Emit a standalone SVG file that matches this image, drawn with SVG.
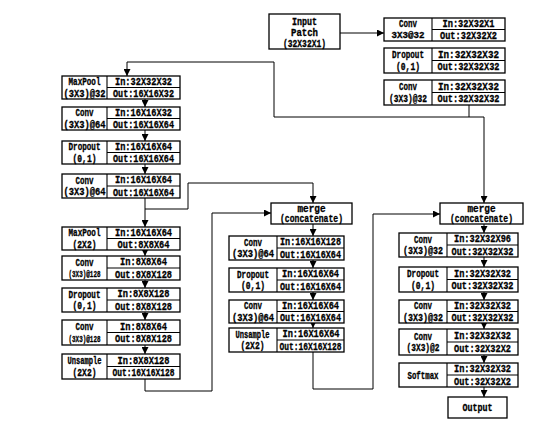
<svg xmlns="http://www.w3.org/2000/svg" width="542" height="434" viewBox="0 0 542 434">
<style>
.b{fill:#fff;stroke:#000;stroke-width:1.3}
.d{stroke:#000;stroke-width:1.1}
.t{font-family:"Liberation Mono","DejaVu Sans Mono",monospace;font-weight:bold;font-size:10px;text-anchor:middle;fill:#000;stroke:#000;stroke-width:0.3}
.s{font-size:8.5px}
.c{stroke:#000;stroke-width:1;fill:none}
</style>
<defs>
<marker id="ah" markerUnits="userSpaceOnUse" markerWidth="7" markerHeight="7" refX="7" refY="3.5" orient="auto">
<path d="M0,0L7,3.5L0,7z" fill="#000"/>
</marker>
</defs>
<rect width="542" height="434" fill="#fff"/>

<g id="connectors" class="c">
<path d="M340,33H384" marker-end="url(#ah)"/>
<path d="M469,105V117"/>
<path d="M274,117H484V203" marker-end="url(#ah)"/>
<path d="M274,117V62H127V76" marker-end="url(#ah)"/>
<path d="M145,99V107" marker-end="url(#ah)"/>
<path d="M145,130V141" marker-end="url(#ah)"/>
<path d="M145,164V174" marker-end="url(#ah)"/>
<path d="M145,198V227" marker-end="url(#ah)"/>
<path d="M145,250V256" marker-end="url(#ah)"/>
<path d="M145,280V288" marker-end="url(#ah)"/>
<path d="M145,312V320" marker-end="url(#ah)"/>
<path d="M145,345V354" marker-end="url(#ah)"/>
<path d="M145,209H188V183H313V203" marker-end="url(#ah)"/>
<path d="M145,379V391H212V213H271" marker-end="url(#ah)"/>
<path d="M313,224V236" marker-end="url(#ah)"/>
<path d="M313,260V268" marker-end="url(#ah)"/>
<path d="M313,292V300" marker-end="url(#ah)"/>
<path d="M313,323V328" marker-end="url(#ah)"/>
<path d="M313,352V389H373V214H440" marker-end="url(#ah)"/>
<path d="M484,224V233" marker-end="url(#ah)"/>
<path d="M484,257V267" marker-end="url(#ah)"/>
<path d="M484,292V300" marker-end="url(#ah)"/>
<path d="M484,323V329" marker-end="url(#ah)"/>
<path d="M484,355V363" marker-end="url(#ah)"/>
<path d="M484,387V397" marker-end="url(#ah)"/>
</g>

<g id="input">
<rect class="b" x="269" y="14" width="71" height="35"/>
<text class="t" x="304.5" y="24.5" textLength="25" lengthAdjust="spacingAndGlyphs">Input</text>
<text class="t" x="304.5" y="36" textLength="27" lengthAdjust="spacingAndGlyphs">Patch</text>
<text class="t" x="304.5" y="47" textLength="43" lengthAdjust="spacingAndGlyphs">(32X32X1)</text>
</g>

<g id="t1">
<rect class="b" x="384" y="18" width="121" height="23"/>
<path class="d" d="M432,18V41M432,29.5H505"/>
<text class="t" x="408" y="27" textLength="18" lengthAdjust="spacingAndGlyphs">Conv</text>
<text class="t s" x="408" y="38" textLength="33" lengthAdjust="spacingAndGlyphs">3X3@32</text>
<text class="t" x="468.5" y="26.5" textLength="52" lengthAdjust="spacingAndGlyphs">In:32X32X1</text>
<text class="t" x="468.5" y="39" textLength="57" lengthAdjust="spacingAndGlyphs">Out:32X32X2</text>
</g>
<g id="t2">
<rect class="b" x="384" y="48" width="121" height="25"/>
<path class="d" d="M432,48V73M432,60.5H505"/>
<text class="t" x="408" y="58" textLength="32" lengthAdjust="spacingAndGlyphs">Dropout</text>
<text class="t" x="408" y="69.5" textLength="24" lengthAdjust="spacingAndGlyphs">(0,1)</text>
<text class="t" x="468.5" y="57.5" textLength="61" lengthAdjust="spacingAndGlyphs">In:32X32X32</text>
<text class="t" x="468.5" y="70" textLength="62" lengthAdjust="spacingAndGlyphs">Out:32X32X32</text>
</g>
<g id="t3">
<rect class="b" x="384" y="80" width="121" height="25"/>
<path class="d" d="M432,80V105M432,92.5H505"/>
<text class="t" x="408" y="90" textLength="18" lengthAdjust="spacingAndGlyphs">Conv</text>
<text class="t" x="408" y="101.5" textLength="38" lengthAdjust="spacingAndGlyphs">(3X3)@32</text>
<text class="t" x="468.5" y="89.5" textLength="61" lengthAdjust="spacingAndGlyphs">In:32X32X32</text>
<text class="t" x="468.5" y="102" textLength="62" lengthAdjust="spacingAndGlyphs">Out:32X32X32</text>
</g>

<g id="l1">
<rect class="b" x="62" y="76" width="118" height="23"/>
<path class="d" d="M107,76V99M107,87.5H180"/>
<text class="t" x="84.5" y="85" textLength="32" lengthAdjust="spacingAndGlyphs">MaxPool</text>
<text class="t" x="84.5" y="96.5" textLength="42" lengthAdjust="spacingAndGlyphs">(3X3)@32</text>
<text class="t" x="143.5" y="84.5" textLength="57" lengthAdjust="spacingAndGlyphs">In:32X32X32</text>
<text class="t" x="143.5" y="97" textLength="61" lengthAdjust="spacingAndGlyphs">Out:16X16X32</text>
</g>
<g id="l2">
<rect class="b" x="62" y="107" width="118" height="23"/>
<path class="d" d="M107,107V130M107,118.5H180"/>
<text class="t" x="84.5" y="116" textLength="18" lengthAdjust="spacingAndGlyphs">Conv</text>
<text class="t" x="84.5" y="127.5" textLength="42" lengthAdjust="spacingAndGlyphs">(3X3)@64</text>
<text class="t" x="143.5" y="115.5" textLength="57" lengthAdjust="spacingAndGlyphs">In:16X16X32</text>
<text class="t" x="143.5" y="128" textLength="61" lengthAdjust="spacingAndGlyphs">Out:16X16X64</text>
</g>
<g id="l3">
<rect class="b" x="62" y="141" width="118" height="23"/>
<path class="d" d="M107,141V164M107,152.5H180"/>
<text class="t" x="84.5" y="150" textLength="32" lengthAdjust="spacingAndGlyphs">Dropout</text>
<text class="t" x="84.5" y="161.5" textLength="24" lengthAdjust="spacingAndGlyphs">(0,1)</text>
<text class="t" x="143.5" y="149.5" textLength="57" lengthAdjust="spacingAndGlyphs">In:16X16X64</text>
<text class="t" x="143.5" y="162" textLength="61" lengthAdjust="spacingAndGlyphs">Out:16X16X64</text>
</g>
<g id="l4">
<rect class="b" x="62" y="174" width="118" height="24"/>
<path class="d" d="M107,174V198M107,186H180"/>
<text class="t" x="84.5" y="183.5" textLength="18" lengthAdjust="spacingAndGlyphs">Conv</text>
<text class="t" x="84.5" y="195" textLength="42" lengthAdjust="spacingAndGlyphs">(3X3)@64</text>
<text class="t" x="143.5" y="183" textLength="57" lengthAdjust="spacingAndGlyphs">In:16X16X64</text>
<text class="t" x="143.5" y="195.5" textLength="61" lengthAdjust="spacingAndGlyphs">Out:16X16X64</text>
</g>
<g id="l5">
<rect class="b" x="62" y="227" width="118" height="23"/>
<path class="d" d="M107,227V250M107,238.5H180"/>
<text class="t" x="84.5" y="236" textLength="32" lengthAdjust="spacingAndGlyphs">MaxPool</text>
<text class="t" x="84.5" y="247.5" textLength="24" lengthAdjust="spacingAndGlyphs">(2X2)</text>
<text class="t" x="143.5" y="235.5" textLength="57" lengthAdjust="spacingAndGlyphs">In:16X16X64</text>
<text class="t" x="143.5" y="248" textLength="52" lengthAdjust="spacingAndGlyphs">Out:8X8X64</text>
</g>
<g id="l6">
<rect class="b" x="62" y="256" width="118" height="24"/>
<path class="d" d="M107,256V280M107,268H180"/>
<text class="t" x="84.5" y="265.5" textLength="18" lengthAdjust="spacingAndGlyphs">Conv</text>
<text class="t s" x="84.5" y="277" textLength="32" lengthAdjust="spacingAndGlyphs">(3X3)@128</text>
<text class="t" x="143.5" y="265" textLength="47" lengthAdjust="spacingAndGlyphs">In:8X8X64</text>
<text class="t" x="143.5" y="277.5" textLength="57" lengthAdjust="spacingAndGlyphs">Out:8X8X128</text>
</g>
<g id="l7">
<rect class="b" x="62" y="288" width="118" height="24"/>
<path class="d" d="M107,288V312M107,300H180"/>
<text class="t" x="84.5" y="297.5" textLength="32" lengthAdjust="spacingAndGlyphs">Dropout</text>
<text class="t" x="84.5" y="309" textLength="24" lengthAdjust="spacingAndGlyphs">(0,1)</text>
<text class="t" x="143.5" y="297" textLength="52" lengthAdjust="spacingAndGlyphs">In:8X8X128</text>
<text class="t" x="143.5" y="309.5" textLength="57" lengthAdjust="spacingAndGlyphs">Out:8X8X128</text>
</g>
<g id="l8">
<rect class="b" x="62" y="320" width="118" height="25"/>
<path class="d" d="M107,320V345M107,332.5H180"/>
<text class="t" x="84.5" y="330" textLength="18" lengthAdjust="spacingAndGlyphs">Conv</text>
<text class="t s" x="84.5" y="341.5" textLength="32" lengthAdjust="spacingAndGlyphs">(3X3)@128</text>
<text class="t" x="143.5" y="329.5" textLength="47" lengthAdjust="spacingAndGlyphs">In:8X8X64</text>
<text class="t" x="143.5" y="342" textLength="57" lengthAdjust="spacingAndGlyphs">Out:8X8X128</text>
</g>
<g id="l9">
<rect class="b" x="62" y="354" width="118" height="25"/>
<path class="d" d="M107,354V379M107,366.5H180"/>
<text class="t" x="84.5" y="364" textLength="34" lengthAdjust="spacingAndGlyphs">Unsample</text>
<text class="t" x="84.5" y="375.5" textLength="24" lengthAdjust="spacingAndGlyphs">(2X2)</text>
<text class="t" x="143.5" y="363.5" textLength="52" lengthAdjust="spacingAndGlyphs">In:8X8X128</text>
<text class="t" x="143.5" y="376" textLength="62" lengthAdjust="spacingAndGlyphs">Out:16X16X128</text>
</g>

<g id="m0">
<rect class="b" x="271" y="203" width="81" height="21"/>
<text class="t" x="311.5" y="211.5" textLength="28" lengthAdjust="spacingAndGlyphs">merge</text>
<text class="t" x="311.5" y="222" textLength="63" lengthAdjust="spacingAndGlyphs">(concatenate)</text>
</g>
<g id="m1">
<rect class="b" x="229" y="236" width="115" height="24"/>
<path class="d" d="M277,236V260M277,248H344"/>
<text class="t" x="253" y="245.5" textLength="18" lengthAdjust="spacingAndGlyphs">Conv</text>
<text class="t" x="253" y="257" textLength="42" lengthAdjust="spacingAndGlyphs">(3X3)@64</text>
<text class="t" x="310.5" y="245" textLength="61" lengthAdjust="spacingAndGlyphs">In:16X16X128</text>
<text class="t" x="310.5" y="257.5" textLength="61" lengthAdjust="spacingAndGlyphs">Out:16X16X64</text>
</g>
<g id="m2">
<rect class="b" x="229" y="268" width="115" height="24"/>
<path class="d" d="M277,268V292M277,280H344"/>
<text class="t" x="253" y="277.5" textLength="32" lengthAdjust="spacingAndGlyphs">Dropout</text>
<text class="t" x="253" y="289" textLength="24" lengthAdjust="spacingAndGlyphs">(0,1)</text>
<text class="t" x="310.5" y="277" textLength="57" lengthAdjust="spacingAndGlyphs">In:16X16X64</text>
<text class="t" x="310.5" y="289.5" textLength="61" lengthAdjust="spacingAndGlyphs">Out:16X16X64</text>
</g>
<g id="m3">
<rect class="b" x="229" y="300" width="115" height="23"/>
<path class="d" d="M277,300V323M277,311.5H344"/>
<text class="t" x="253" y="309" textLength="18" lengthAdjust="spacingAndGlyphs">Conv</text>
<text class="t" x="253" y="320.5" textLength="42" lengthAdjust="spacingAndGlyphs">(3X3)@64</text>
<text class="t" x="310.5" y="308.5" textLength="57" lengthAdjust="spacingAndGlyphs">In:16X16X64</text>
<text class="t" x="310.5" y="321" textLength="61" lengthAdjust="spacingAndGlyphs">Out:16X16X64</text>
</g>
<g id="m4">
<rect class="b" x="229" y="328" width="115" height="24"/>
<path class="d" d="M277,328V352M277,340H344"/>
<text class="t" x="252.5" y="337.5" textLength="34" lengthAdjust="spacingAndGlyphs">Unsample</text>
<text class="t" x="252.5" y="349" textLength="24" lengthAdjust="spacingAndGlyphs">(2X2)</text>
<text class="t" x="311" y="337" textLength="57" lengthAdjust="spacingAndGlyphs">In:16X16X64</text>
<text class="t" x="310.5" y="349.5" textLength="62" lengthAdjust="spacingAndGlyphs">Out:16X16X128</text>
</g>

<g id="r0">
<rect class="b" x="440" y="203" width="83" height="21"/>
<text class="t" x="481.5" y="211.5" textLength="28" lengthAdjust="spacingAndGlyphs">merge</text>
<text class="t" x="481.5" y="222" textLength="63" lengthAdjust="spacingAndGlyphs">(concatenate)</text>
</g>
<g id="r1">
<rect class="b" x="399" y="233" width="119" height="24"/>
<path class="d" d="M447,233V257M447,245H518"/>
<text class="t" x="423" y="242.5" textLength="18" lengthAdjust="spacingAndGlyphs">Conv</text>
<text class="t" x="423" y="254" textLength="40" lengthAdjust="spacingAndGlyphs">(3X3)@32</text>
<text class="t" x="482.5" y="242" textLength="57" lengthAdjust="spacingAndGlyphs">In:32X32X96</text>
<text class="t" x="482.5" y="254.5" textLength="62" lengthAdjust="spacingAndGlyphs">Out:32X32X32</text>
</g>
<g id="r2">
<rect class="b" x="399" y="267" width="119" height="25"/>
<path class="d" d="M447,267V292M447,279.5H518"/>
<text class="t" x="423" y="277" textLength="32" lengthAdjust="spacingAndGlyphs">Dropout</text>
<text class="t" x="423" y="288.5" textLength="24" lengthAdjust="spacingAndGlyphs">(0,1)</text>
<text class="t" x="482.5" y="276.5" textLength="57" lengthAdjust="spacingAndGlyphs">In:32X32X32</text>
<text class="t" x="482.5" y="289" textLength="62" lengthAdjust="spacingAndGlyphs">Out:32X32X32</text>
</g>
<g id="r3">
<rect class="b" x="399" y="300" width="119" height="23"/>
<path class="d" d="M447,300V323M447,311.5H518"/>
<text class="t" x="423" y="309" textLength="18" lengthAdjust="spacingAndGlyphs">Conv</text>
<text class="t" x="423" y="320.5" textLength="40" lengthAdjust="spacingAndGlyphs">(3X3)@32</text>
<text class="t" x="482.5" y="308.5" textLength="57" lengthAdjust="spacingAndGlyphs">In:32X32X32</text>
<text class="t" x="482.5" y="321" textLength="62" lengthAdjust="spacingAndGlyphs">Out:32X32X32</text>
</g>
<g id="r4">
<rect class="b" x="399" y="329" width="119" height="26"/>
<path class="d" d="M447,329V355M447,342H518"/>
<text class="t" x="423" y="339.5" textLength="18" lengthAdjust="spacingAndGlyphs">Conv</text>
<text class="t" x="423" y="351" textLength="33" lengthAdjust="spacingAndGlyphs">(3X3)@2</text>
<text class="t" x="482.5" y="339" textLength="57" lengthAdjust="spacingAndGlyphs">In:32X32X32</text>
<text class="t" x="482.5" y="352" textLength="57" lengthAdjust="spacingAndGlyphs">Out:32X32X2</text>
</g>
<g id="r5">
<rect class="b" x="399" y="363" width="119" height="24"/>
<path class="d" d="M447,363V387M447,375H518"/>
<text class="t" x="423" y="378.5" textLength="31" lengthAdjust="spacingAndGlyphs">Softmax</text>
<text class="t" x="482.5" y="372" textLength="57" lengthAdjust="spacingAndGlyphs">In:32X32X32</text>
<text class="t" x="482.5" y="384.5" textLength="57" lengthAdjust="spacingAndGlyphs">Out:32X32X2</text>
</g>
<g id="output">
<rect class="b" x="448" y="397" width="59" height="21"/>
<text class="t" x="477.5" y="411" textLength="30" lengthAdjust="spacingAndGlyphs">Output</text>
</g>
</svg>
